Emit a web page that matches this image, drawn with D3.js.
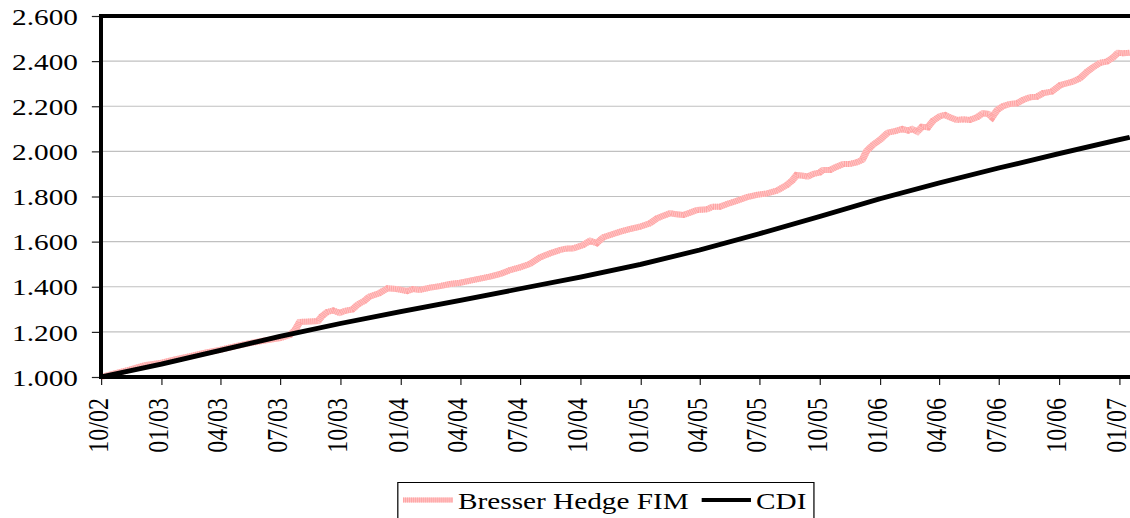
<!DOCTYPE html>
<html><head><meta charset="utf-8">
<script src="https://cdn.jsdelivr.net/npm/d3@7"></script>
<style>html,body{margin:0;padding:0;background:#fff;overflow:hidden}</style>
</head><body><div id="chart"></div>
<script>
// ---- DATA ----
const bresserDates = ["2002-10-01","2002-10-22","2002-11-14","2002-12-07","2002-12-30","2003-01-22","2003-02-14","2003-03-09","2003-03-31","2003-04-23","2003-05-16","2003-06-08","2003-07-01","2003-07-16","2003-07-24","2003-07-31","2003-08-16","2003-08-28","2003-09-03","2003-09-11","2003-09-20","2003-09-30","2003-10-08","2003-10-19","2003-10-28","2003-11-07","2003-11-14","2003-11-29","2003-12-12","2003-12-26","2004-01-11","2004-01-20","2004-01-30","2004-02-15","2004-03-01","2004-03-16","2004-04-01","2004-04-16","2004-05-01","2004-05-16","2004-06-01","2004-06-16","2004-07-01","2004-07-16","2004-08-01","2004-08-16","2004-08-31","2004-09-11","2004-09-20","2004-10-05","2004-10-16","2004-10-26","2004-11-05","2004-11-20","2004-12-01","2004-12-16","2004-12-31","2005-01-15","2005-01-26","2005-02-04","2005-02-15","2005-02-25","2005-03-07","2005-03-17","2005-03-28","2005-04-12","2005-04-21","2005-05-02","2005-05-13","2005-05-28","2005-06-12","2005-06-27","2005-07-13","2005-07-28","2005-08-12","2005-08-20","2005-08-27","2005-09-06","2005-09-13","2005-09-21","2005-10-01","2005-10-06","2005-10-17","2005-10-27","2005-11-06","2005-11-16","2005-11-27","2005-12-05","2005-12-12","2005-12-21","2006-01-01","2006-01-13","2006-01-24","2006-02-04","2006-02-13","2006-02-19","2006-02-27","2006-03-06","2006-03-15","2006-03-23","2006-04-03","2006-04-10","2006-04-18","2006-04-28","2006-05-08","2006-05-18","2006-05-29","2006-06-07","2006-06-15","2006-06-21","2006-06-29","2006-07-08","2006-07-18","2006-07-29","2006-08-07","2006-08-18","2006-08-28","2006-09-07","2006-09-20","2006-10-03","2006-10-13","2006-10-22","2006-11-02","2006-11-13","2006-11-22","2006-12-03","2006-12-13","2006-12-22","2006-12-30","2007-01-07","2007-01-17"];
const bresserValues = [1000,1016,1033,1052,1062,1078,1092,1108,1120,1136,1150,1162,1172,1186,1208,1244,1246,1248,1270,1288,1295,1284,1293,1299,1322,1338,1356,1371,1393,1390,1381,1390,1386,1396,1403,1412,1418,1427,1436,1445,1457,1474,1486,1501,1531,1548,1563,1570,1570,1585,1604,1593,1619,1634,1644,1656,1666,1681,1703,1714,1726,1721,1718,1728,1740,1743,1755,1755,1767,1781,1797,1807,1814,1826,1851,1870,1895,1892,1888,1900,1906,1918,1918,1932,1944,1944,1952,1962,2003,2028,2051,2083,2090,2099,2092,2099,2087,2109,2107,2136,2157,2161,2151,2139,2142,2139,2151,2169,2166,2151,2184,2201,2210,2213,2228,2240,2242,2258,2265,2294,2302,2309,2324,2353,2373,2393,2398,2415,2437,2435,2437];
const cdiDates = ["2002-10-01","2003-01-01","2003-04-01","2003-07-01","2003-10-01","2004-01-01","2004-04-01","2004-07-01","2004-10-01","2005-01-01","2005-04-01","2005-07-01","2005-10-01","2006-01-01","2006-04-01","2006-07-01","2006-10-01","2007-01-01","2007-01-17"];
const cdiValues = [1000,1057,1118,1180,1237,1290,1340,1391,1443,1499,1563,1635,1711,1790,1860,1926,1990,2052,2062];
const yTickValues = [1000,1200,1400,1600,1800,2000,2200,2400,2600];
const xTickDates = ["2002-10-01","2003-01-01","2003-04-01","2003-07-01","2003-10-01","2004-01-01","2004-04-01","2004-07-01","2004-10-01","2005-01-01","2005-04-01","2005-07-01","2005-10-01","2006-01-01","2006-04-01","2006-07-01","2006-10-01","2007-01-01"];
const seriesNames = ["Bresser Hedge FIM","CDI"];

// ---- LAYOUT ----
const SX = 1.2203;               // horizontal stretch of the original picture
const W = 1130 / SX, H = 518;
const parse = d3.utcParse("%Y-%m-%d");
const plotL = 101 / SX, plotR = 1134 / SX, plotT = 16, plotB = 377;
const FONT = "'Liberation Serif','Times New Roman',serif";

const x = d3.scaleUtc()
  .domain([parse("2002-10-01"), parse("2007-01-01")])
  .range([101 / SX, 1119.3 / SX]);
const y = d3.scaleLinear().domain([1000, 2600]).range([plotB, plotT]);

const br = d3.formatLocale({decimal: ",", thousands: ".", grouping: [3], currency: ["R$", ""]});
const fmtY = br.format(",.0f");

const svg = d3.select("#chart").append("svg")
  .attr("width", 1130).attr("height", H)
  .attr("viewBox", `0 0 ${W} ${H}`)
  .attr("preserveAspectRatio", "none")
  .style("display", "block");

svg.append("defs").append("clipPath").attr("id", "plotclip")
  .append("rect").attr("x", plotL).attr("y", plotT - 3)
  .attr("width", plotR - plotL).attr("height", plotB - plotT + 6);

// gridlines
svg.append("g").selectAll("line")
  .data(yTickValues.filter(v => v > 1000 && v < 2600))
  .join("line")
  .attr("x1", plotL).attr("x2", plotR)
  .attr("y1", d => y(d)).attr("y2", d => y(d))
  .attr("stroke", "#c0c0c0").attr("stroke-width", 1.2);

// y axis
const yAxis = svg.append("g").attr("transform", `translate(${plotL},0)`)
  .call(d3.axisLeft(y).tickValues(yTickValues).tickFormat(fmtY)
    .tickSizeInner(7.5).tickSizeOuter(0).tickPadding(11.4));
yAxis.select(".domain").remove();
yAxis.selectAll(".tick line").attr("stroke", "#222").attr("stroke-width", 1.2);
yAxis.selectAll("text").attr("font-family", FONT).attr("font-size", 24)
  .attr("fill", "#000").attr("dy", "0.34em");

// x axis
const xAxis = svg.append("g").attr("transform", `translate(0,${plotB})`)
  .call(d3.axisBottom(x).tickValues(xTickDates.map(parse))
    .tickFormat(d3.utcFormat("%m/%y")).tickSizeInner(8).tickSizeOuter(0));
xAxis.select(".domain").remove();
xAxis.selectAll(".tick line").attr("stroke", "#222").attr("stroke-width", 1);
xAxis.selectAll("text")
  .attr("font-family", FONT).attr("font-size", 24).attr("fill", "#000")
  .attr("text-anchor", "end")
  .attr("transform", "rotate(-90)")
  .attr("x", -21).attr("y", 0).attr("dy", "0.22em");

// series
const bresser = bresserDates.map((d, i) => ({date: parse(d), value: bresserValues[i]}));
const cdi = cdiDates.map((d, i) => ({date: parse(d), value: cdiValues[i]}));
const line = d3.line().x(d => x(d.date)).y(d => y(d.value));

const data = svg.append("g").attr("clip-path", "url(#plotclip)");
data.append("path").datum(bresser).attr("d", line)
  .attr("fill", "none").attr("stroke", "#ffc4c4").attr("stroke-width", 6);
data.append("path").datum(bresser).attr("d", line)
  .attr("fill", "none").attr("stroke", "#ffa3a3").attr("stroke-width", 6)
  .attr("stroke-dasharray", "0.8 0.85");
data.append("path").datum(cdi).attr("d", line)
  .attr("fill", "none").attr("stroke", "#000").attr("stroke-width", 4.8)
  .attr("stroke-linejoin", "round");

// frame
const frame = svg.append("g").attr("stroke", "#000");
frame.append("line").attr("x1", plotL - 1.6).attr("x2", plotR).attr("y1", plotT).attr("y2", plotT).attr("stroke-width", 4);
frame.append("line").attr("x1", plotL - 1.6).attr("x2", plotR).attr("y1", plotB).attr("y2", plotB).attr("stroke-width", 4);
frame.append("line").attr("x1", plotL).attr("x2", plotL).attr("y1", plotT - 2).attr("y2", plotB + 2).attr("stroke-width", 4 / SX);

// legend
const lg = svg.append("g");
lg.append("rect").attr("x", 326).attr("y", 482.5).attr("width", 341).attr("height", 60)
  .attr("fill", "#fff").attr("stroke", "#000").attr("stroke-width", 1);
lg.append("line").attr("x1", 330.3).attr("x2", 371.2).attr("y1", 500).attr("y2", 500)
  .attr("stroke", "#ffc4c4").attr("stroke-width", 5);
lg.append("line").attr("x1", 330.3).attr("x2", 371.2).attr("y1", 500).attr("y2", 500)
  .attr("stroke", "#ffa3a3").attr("stroke-width", 5).attr("stroke-dasharray", "0.8 0.85");
lg.append("text").attr("x", 375.3).attr("y", 509).text(seriesNames[0])
  .attr("font-family", FONT).attr("font-size", 24).attr("fill", "#000");
lg.append("line").attr("x1", 575).attr("x2", 615.4).attr("y1", 500).attr("y2", 500)
  .attr("stroke", "#000").attr("stroke-width", 4);
lg.append("text").attr("x", 619.5).attr("y", 509).text(seriesNames[1])
  .attr("font-family", FONT).attr("font-size", 24).attr("fill", "#000");
</script>
</body></html>
